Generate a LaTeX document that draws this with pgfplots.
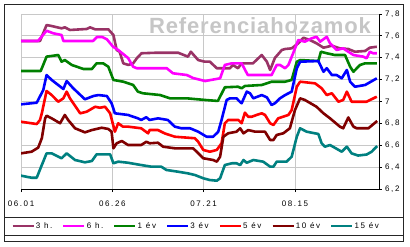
\documentclass[border=0pt]{standalone}
\usepackage{pgfplots}
\pgfplotsset{compat=1.18}
\usepackage{fontspec}
\setmainfont{Liberation Sans}
\newfontfamily\lsfont[LetterSpace=20]{Liberation Sans}
\newfontfamily\wmfont[LetterSpace=4]{Liberation Sans}
\definecolor{cA}{RGB}{153,51,102}
\definecolor{cB}{RGB}{255,0,255}
\definecolor{cC}{RGB}{0,128,0}
\definecolor{cD}{RGB}{0,0,255}
\definecolor{cE}{RGB}{255,0,0}
\definecolor{cF}{RGB}{128,0,0}
\definecolor{cG}{RGB}{0,128,128}
\definecolor{wm}{RGB}{198,198,198}
\definecolor{gridgray}{RGB}{200,200,200}
\begin{document}
\begin{tikzpicture}[x=1bp,y=1bp]
\path[use as bounding box] (0,0) rectangle (410,247);
\fill[white] (0,0) rectangle (410,247);
\node[anchor=base, text=wm, font=\wmfont\bfseries\fontsize{22bp}{22bp}\selectfont, inner sep=0pt] at (260,213.7) {Referenciahozamok};
\begin{axis}[
  at={(21bp,58bp)}, anchor=south west,
  scale only axis, width=358bp, height=175bp,
  xmin=0, xmax=98, ymin=6.2, ymax=7.8,
  axis x line*=bottom, axis y line*=right,
  xtick={0,25,50,75}, xticklabels={06.01,06.26,07.21,08.15},
  ytick={6.2,6.4,6.6,6.8,7,7.2,7.4,7.6,7.8},
  yticklabels={{6,2},{6,4},{6,6},{6,8},{7},{7,2},{7,4},{7,6},{7,8}},
  grid=major, grid style={draw=gridgray, line width=0.9bp},
  tick align=outside, major tick length=3bp,
  tick style={black, line width=0.8bp},
  axis line style={black, line width=0.8bp},
  ticklabel style={font=\lsfont\fontsize{8bp}{9bp}\selectfont},
  xticklabel style={anchor=north, inner sep=0pt, yshift=-9bp},
  yticklabel style={anchor=west, inner sep=0pt, xshift=3bp},
  legend columns=7,
  legend style={at={(axis description cs:-0.0279,-0.2114)}, anchor=west, draw=none, fill=none, inner sep=0pt,
    font=\lsfont\fontsize{8bp}{9bp}\selectfont,
    /tikz/every even column/.append style={column sep=8.8bp},
    nodes={inner sep=1bp}},
  legend image code/.code={\draw[#1, line width=2.6bp] (0bp,0bp) -- (21bp,0bp);},
  every axis plot/.append style={line width=2.6bp, line join=round},
]
\addplot[cA] coordinates {(0,7.553) (5.2,7.553) (7.0,7.699) (8.4,7.690) (11.1,7.669) (12.0,7.678) (13.4,7.654) (18.0,7.663) (18.9,7.678) (20.3,7.660) (23.9,7.660) (25.3,7.608) (26.2,7.470) (27.0,7.455) (28.0,7.349) (29.4,7.334) (30.7,7.349) (31.7,7.395) (33.0,7.441) (37.1,7.446) (43.0,7.446) (45.7,7.410) (46.5,7.455) (48.5,7.379) (50.3,7.364) (51.7,7.364) (53.6,7.304) (57.2,7.304) (58.0,7.334) (59.4,7.304) (60.4,7.349) (63.5,7.349) (65.9,7.425) (67.3,7.364) (68.2,7.288) (69.5,7.398) (71.4,7.471) (72.3,7.480) (74.1,7.486) (75.9,7.532) (77.3,7.583) (79.1,7.562) (80.9,7.532) (82.8,7.492) (85.1,7.510) (87.3,7.486) (89.6,7.480) (91.4,7.455) (94.2,7.462) (95.5,7.492) (97.4,7.501)};
\addlegendentry{3 h.}
\addplot[cB] coordinates {(0,7.553) (4.65,7.553) (7.0,7.647) (8.8,7.624) (11.1,7.608) (11.6,7.553) (19.7,7.553) (20.8,7.590) (22.2,7.590) (23.5,7.569) (25.2,7.501) (26.6,7.471) (29.3,7.398) (30.7,7.318) (31.7,7.304) (39.9,7.304) (41.6,7.258) (45.4,7.242) (47.1,7.215) (50.4,7.187) (54.5,7.212) (55.8,7.334) (57.7,7.349) (60.4,7.349) (61.8,7.260) (62.1,7.242) (68.6,7.242) (70.0,7.334) (70.9,7.334) (72.3,7.304) (73.2,7.334) (74.5,7.441) (75.9,7.562) (77.7,7.547) (79.6,7.578) (80.9,7.592) (81.9,7.547) (83.7,7.592) (84.6,7.532) (86.4,7.471) (88.2,7.486) (89.6,7.455) (91.0,7.425) (93.7,7.410) (94.6,7.395) (95.5,7.455) (96.4,7.441) (97.4,7.441)};
\addlegendentry{6 h.}
\addplot[cC] coordinates {(0,7.279) (5.4,7.279) (7.0,7.410) (10.2,7.425) (11.1,7.364) (12.0,7.379) (13.9,7.334) (17.1,7.297) (19.4,7.297) (20.7,7.349) (22.5,7.349) (23.9,7.318) (25.3,7.197) (28.0,7.181) (30.7,7.151) (32.0,7.090) (33.4,7.075) (38.1,7.059) (40.8,7.029) (45.4,7.029) (50.4,7.014) (53.9,7.005) (55.8,7.130) (59.4,7.135) (60.4,7.121) (61.3,7.142) (65.9,7.151) (68.6,7.181) (72.3,7.181) (74.1,7.197) (75.5,7.364) (76.4,7.379) (81.4,7.370) (82.1,7.455) (83.7,7.441) (85.9,7.425) (88.7,7.425) (90.1,7.318) (91.0,7.272) (92.8,7.334) (94.2,7.349) (97.4,7.349)};
\addlegendentry{1 év}
\addplot[cD] coordinates {(0,6.974) (4.3,6.989) (6.1,7.105) (7.0,7.242) (8.4,7.197) (11.6,7.114) (12.5,7.187) (14.3,7.121) (17.5,7.020) (19.8,7.050) (21.2,7.059) (23.5,7.050) (24.8,6.984) (25.7,6.892) (29.3,6.877) (32.0,6.846) (32.9,6.831) (34.3,6.856) (35.2,6.831) (37.5,6.846) (40.2,6.831) (42.1,6.770) (43.9,6.755) (46.3,6.755) (48.5,6.724) (50.8,6.678) (52.6,6.678) (54.0,6.724) (54.9,6.831) (56.3,7.014) (57.2,7.029) (59.0,7.029) (59.9,6.998) (60.4,6.984) (61.8,7.090) (62.7,7.075) (63.6,7.029) (65.9,7.059) (67.3,7.038) (68.6,6.968) (69.5,6.984) (70.9,7.029) (72.3,7.059) (74.1,7.090) (75.5,7.304) (76.4,7.364) (81.4,7.370) (82.8,7.272) (83.7,7.304) (85.1,7.242) (86.4,7.242) (87.8,7.212) (89.2,7.288) (90.1,7.181) (91.4,7.135) (94.2,7.151) (97.4,7.212)};
\addlegendentry{3 év}
\addplot[cE] coordinates {(0,6.815) (4.3,6.794) (5.2,6.831) (5.7,6.892) (7.0,7.096) (8.4,7.059) (10.2,6.998) (11.6,7.029) (12.5,7.090) (13.4,7.029) (16.2,6.892) (18.0,6.907) (20.3,6.952) (21.6,6.943) (23.0,6.952) (24.4,6.892) (25.7,6.724) (26.6,6.801) (27.9,6.770) (29.3,6.770) (32.9,6.755) (34.8,6.709) (35.2,6.739) (37.5,6.739) (39.3,6.709) (42.1,6.678) (47.6,6.664) (48.5,6.632) (49.9,6.557) (51.7,6.541) (53.6,6.557) (54.9,6.618) (55.8,6.801) (56.7,6.831) (59.5,6.831) (60.4,6.801) (61.3,6.898) (62.2,6.861) (63.2,6.861) (64.5,6.877) (65.9,6.892) (66.8,6.877) (68.2,6.801) (69.1,6.785) (70.4,6.846) (73.2,6.877) (74.1,6.922) (75.5,7.135) (76.4,7.181) (80.5,7.166) (82.3,7.121) (83.7,7.059) (85.1,7.075) (86.9,6.998) (88.2,7.014) (89.2,7.090) (90.5,6.998) (94.6,6.998) (97.4,7.044)};
\addlegendentry{5 év}
\addplot[cF] coordinates {(0,6.526) (2.9,6.541) (4.7,6.578) (5.7,6.664) (6.6,6.846) (7.0,6.870) (8.4,6.846) (10.7,6.801) (12.0,6.877) (12.9,6.831) (14.8,6.755) (17.5,6.718) (19.4,6.739) (22.1,6.760) (23.9,6.749) (24.8,6.724) (25.3,6.572) (26.2,6.618) (27.6,6.639) (29.3,6.602) (32.9,6.602) (34.3,6.632) (35.2,6.618) (37.5,6.623) (38.9,6.587) (42.1,6.572) (47.1,6.572) (48.1,6.541) (49.9,6.481) (52.6,6.465) (53.6,6.450) (54.5,6.495) (55.4,6.678) (56.7,6.709) (59.0,6.724) (60.0,6.755) (60.9,6.709) (62.2,6.739) (64.1,6.724) (66.8,6.724) (68.2,6.648) (69.1,6.648) (70.0,6.694) (71.8,6.709) (73.6,6.755) (75.0,6.922) (76.4,7.029) (77.7,7.014) (80.9,6.952) (82.8,6.892) (84.6,6.846) (87.3,6.770) (88.2,6.755) (89.6,6.854) (91.0,6.770) (91.9,6.755) (95.1,6.755) (97.5,6.822)};
\addlegendentry{10 év}
\addplot[cG] coordinates {(0,6.322) (2.9,6.303) (4.3,6.303) (5.7,6.419) (7.0,6.526) (8.4,6.526) (11.1,6.481) (12.5,6.526) (14.8,6.465) (17.5,6.444) (19.4,6.456) (20.7,6.517) (24.4,6.517) (25.3,6.435) (26.6,6.450) (29.3,6.440) (32.9,6.419) (35.7,6.404) (38.4,6.404) (39.8,6.374) (43.0,6.358) (45.7,6.343) (47.6,6.328) (49.9,6.298) (51.7,6.282) (53.6,6.276) (54.5,6.298) (55.8,6.419) (57.7,6.435) (59.0,6.435) (60.0,6.419) (60.9,6.465) (61.8,6.440) (63.6,6.465) (66.3,6.450) (68.2,6.404) (69.1,6.404) (70.0,6.450) (72.7,6.450) (74.1,6.495) (75.5,6.678) (76.4,6.755) (78.2,6.724) (81.4,6.703) (82.3,6.618) (83.2,6.587) (84.6,6.602) (87.8,6.541) (89.2,6.587) (90.5,6.526) (92.3,6.506) (94.6,6.515) (96.0,6.541) (97.5,6.593)};
\addlegendentry{15 év}
\end{axis}
\draw[black!85, line width=0.8bp] (4,6) rectangle (403,243);
\draw[black!85, line width=0.8bp] (4,12) -- (403,12);
\draw[black!85, line width=0.8bp] (4,30) -- (403,30);
\end{tikzpicture}
\end{document}
